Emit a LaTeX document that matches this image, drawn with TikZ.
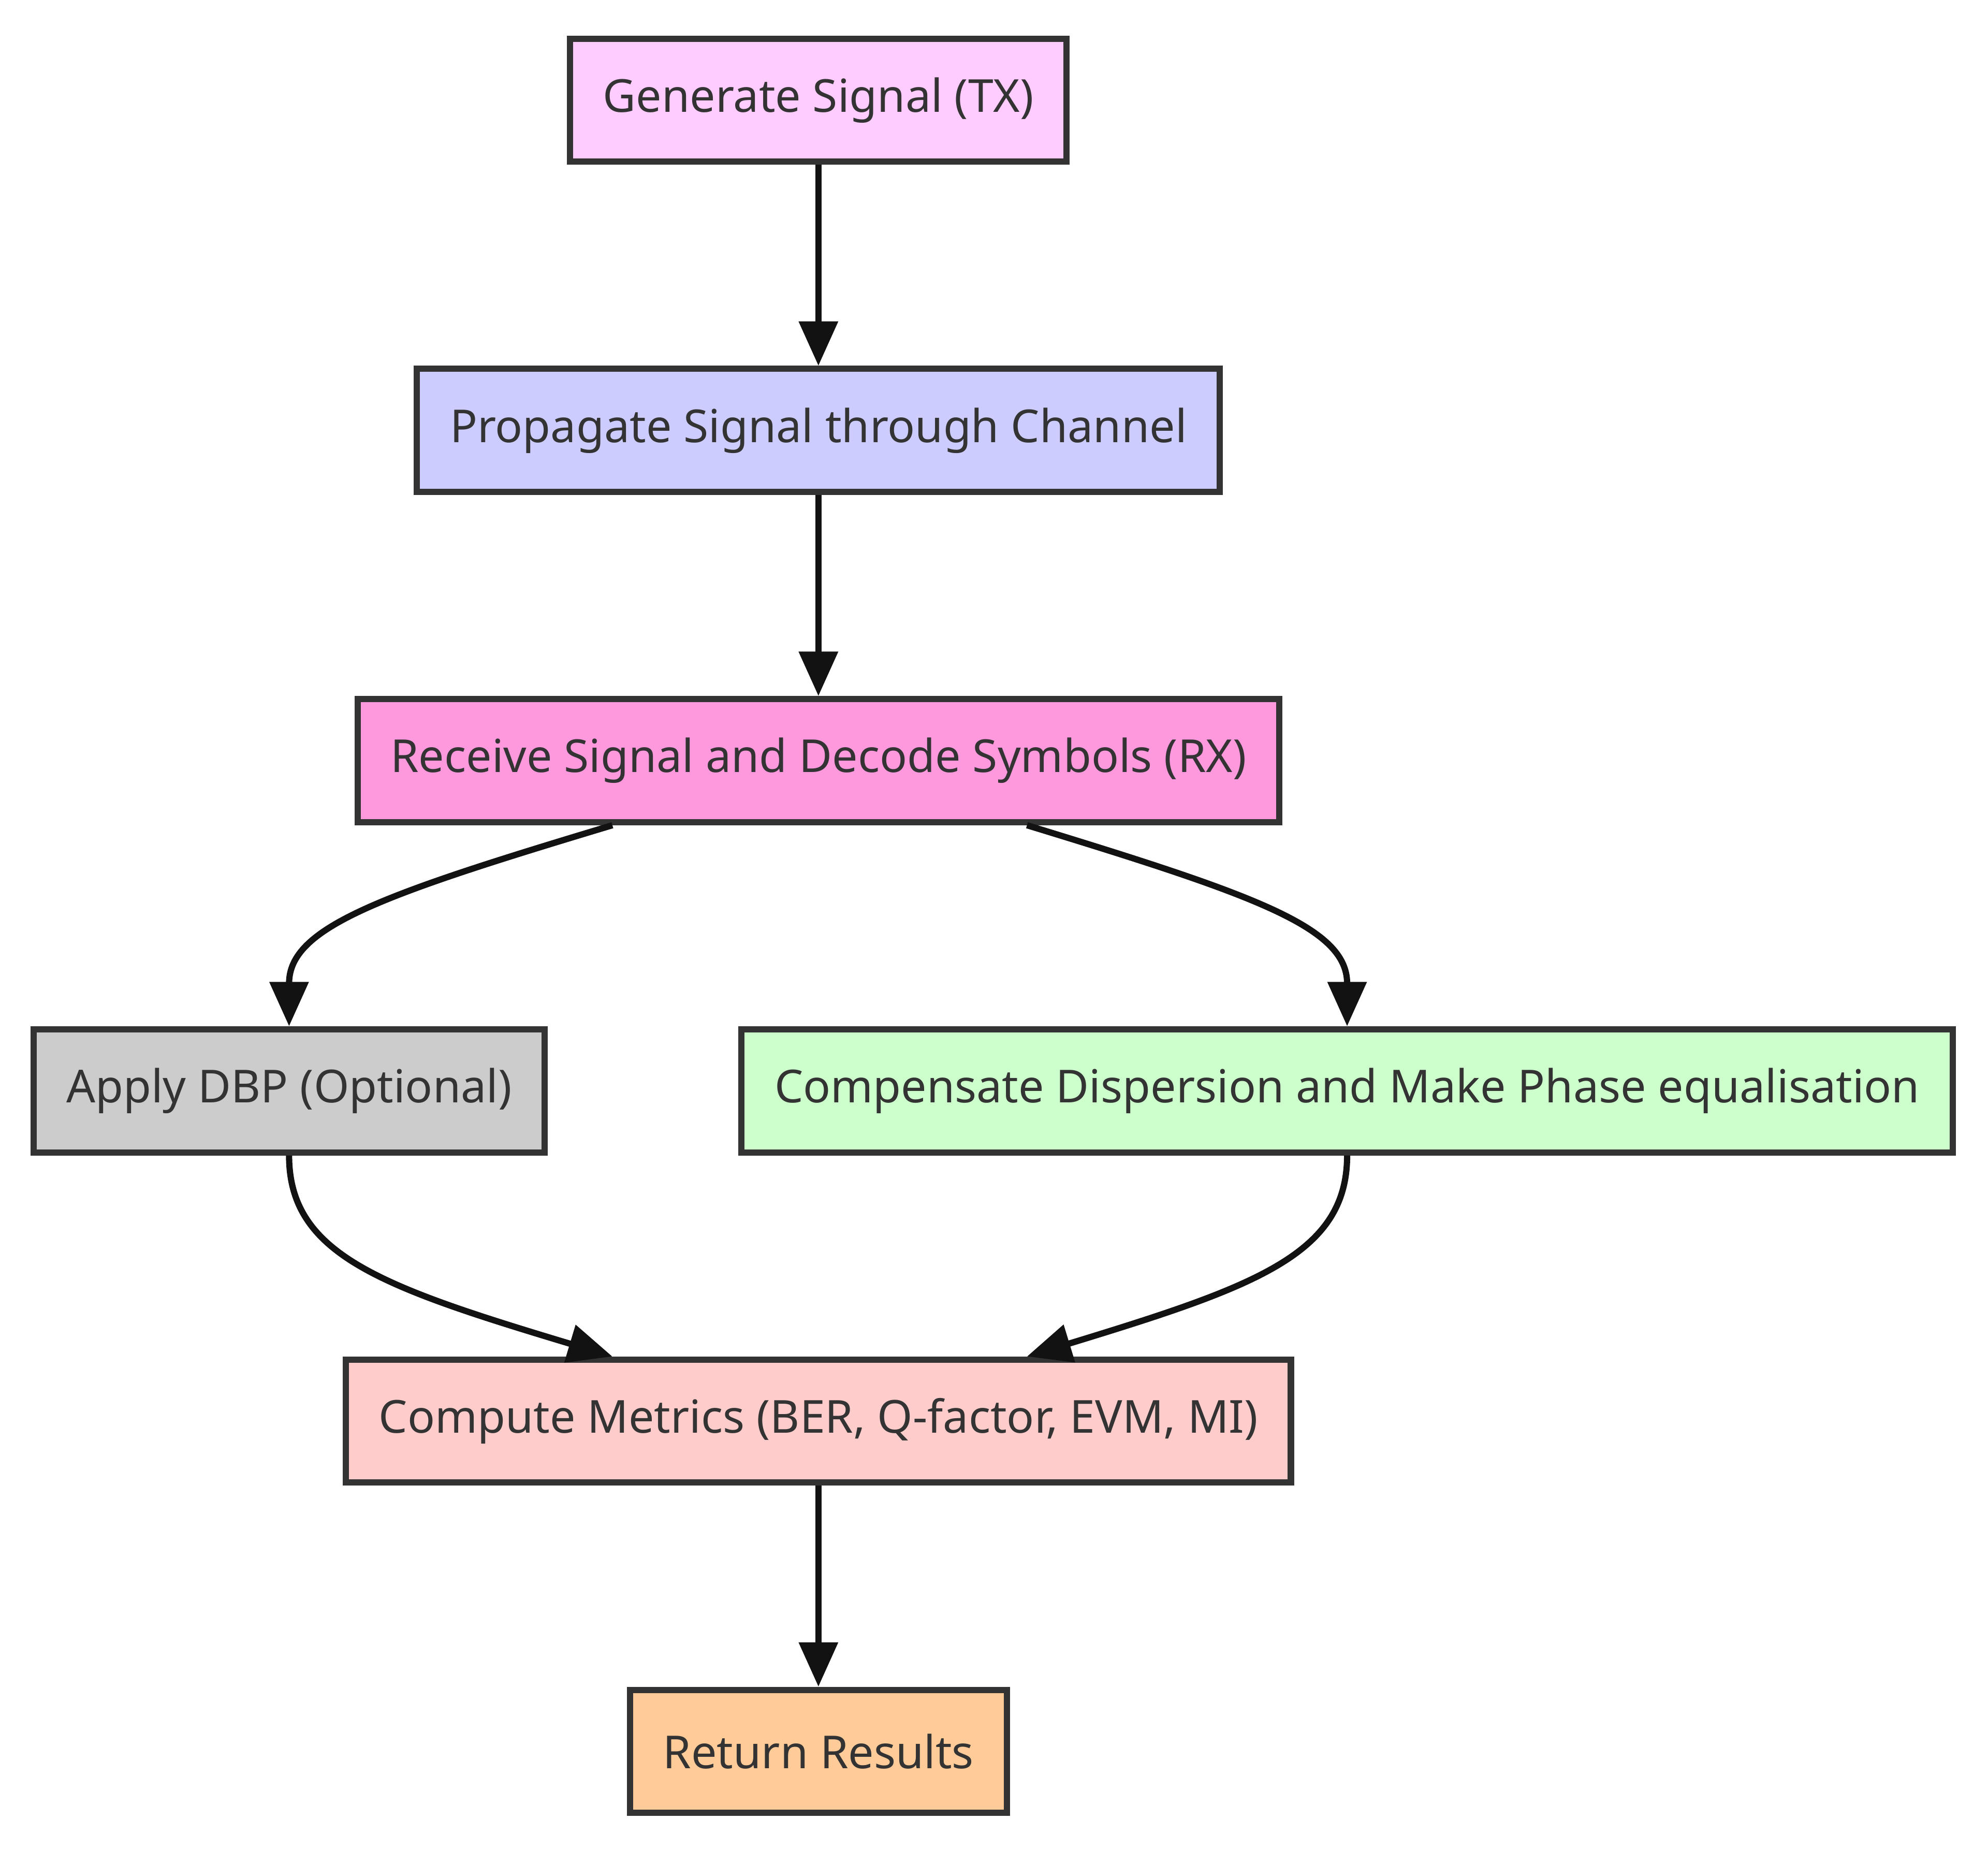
\documentclass[tikz,border=0pt]{standalone}
\usepackage{fontspec}
\setmainfont{Noto Sans}
\usepackage{tikz}
\usetikzlibrary{arrows, arrows.meta, positioning, calc}

\definecolor{edgegray}{HTML}{333333}
\definecolor{txfill}{HTML}{FFCCFF}
\definecolor{chfill}{HTML}{CCCCFF}
\definecolor{rxfill}{HTML}{FF99DD}
\definecolor{dbpfill}{HTML}{CCCCCC}
\definecolor{compfill}{HTML}{CCFFCC}
\definecolor{metfill}{HTML}{FFCCCC}
\definecolor{resfill}{HTML}{FFCC99}

\begin{document}
\begin{tikzpicture}[>={Triangle[length=3.5mm,width=3mm]}, node distance=1.585cm,
    stepbox/.style={draw=edgegray, line width=1.4pt, rectangle, minimum height=0.97cm, inner xsep=0.26cm, text=edgegray, font=\fontsize{10.2}{12}\selectfont},
    flow/.style={->, line width=1.4pt, color=black!93}]

    \useasboundingbox (0,0) rectangle (15.68,-14.58);

    % Main chain
    \node (tx) [stepbox, fill=txfill, minimum width=3.89cm] at (6.455,-0.79) {Generate Signal (TX)};
    \node (ch) [stepbox, fill=chfill, minimum width=6.31cm, below=of tx] {Propagate Signal through Channel};
    \node (rx) [stepbox, fill=rxfill, minimum width=7.23cm, below=of ch] {Receive Signal and Decode Symbols (RX)};

    % Two branches
    \node (dbp) [stepbox, fill=dbpfill, minimum width=4.00cm, below=of rx, xshift=-4.175cm] {Apply DBP (Optional)};
    \node (comp) [stepbox, fill=compfill, minimum width=9.53cm, below=of rx, xshift=4.17cm] {Compensate Dispersion and Make Phase equalisation};

    % Results
    \node (met) [stepbox, fill=metfill, minimum width=7.43cm, below=of dbp, xshift=4.175cm] {Compute Metrics (BER, Q-factor, EVM, MI)};
    \node (res) [stepbox, fill=resfill, minimum width=2.95cm, below=of met] {Return Results};

    % Straight connections
    \draw[flow] (tx) -- (ch);
    \draw[flow] (ch) -- (rx);
    \draw[flow] (met) -- (res);

    % Split after RX
    \draw[flow] ([xshift=-1.625cm]rx.south) .. controls +(-1.83,-0.55) and +(0,0.78) .. (dbp.north);
    \draw[flow] ([xshift=1.645cm]rx.south) .. controls +(1.80,-0.55) and +(0,0.78) .. (comp.north);

    % Join into metrics
    \draw[flow] (dbp.south) .. controls +(0,-0.78) and +(-1.83,0.55) .. ([xshift=-1.625cm]met.north);
    \draw[flow] (comp.south) .. controls +(0,-0.78) and +(1.80,0.55) .. ([xshift=1.645cm]met.north);
\end{tikzpicture}
\end{document}
